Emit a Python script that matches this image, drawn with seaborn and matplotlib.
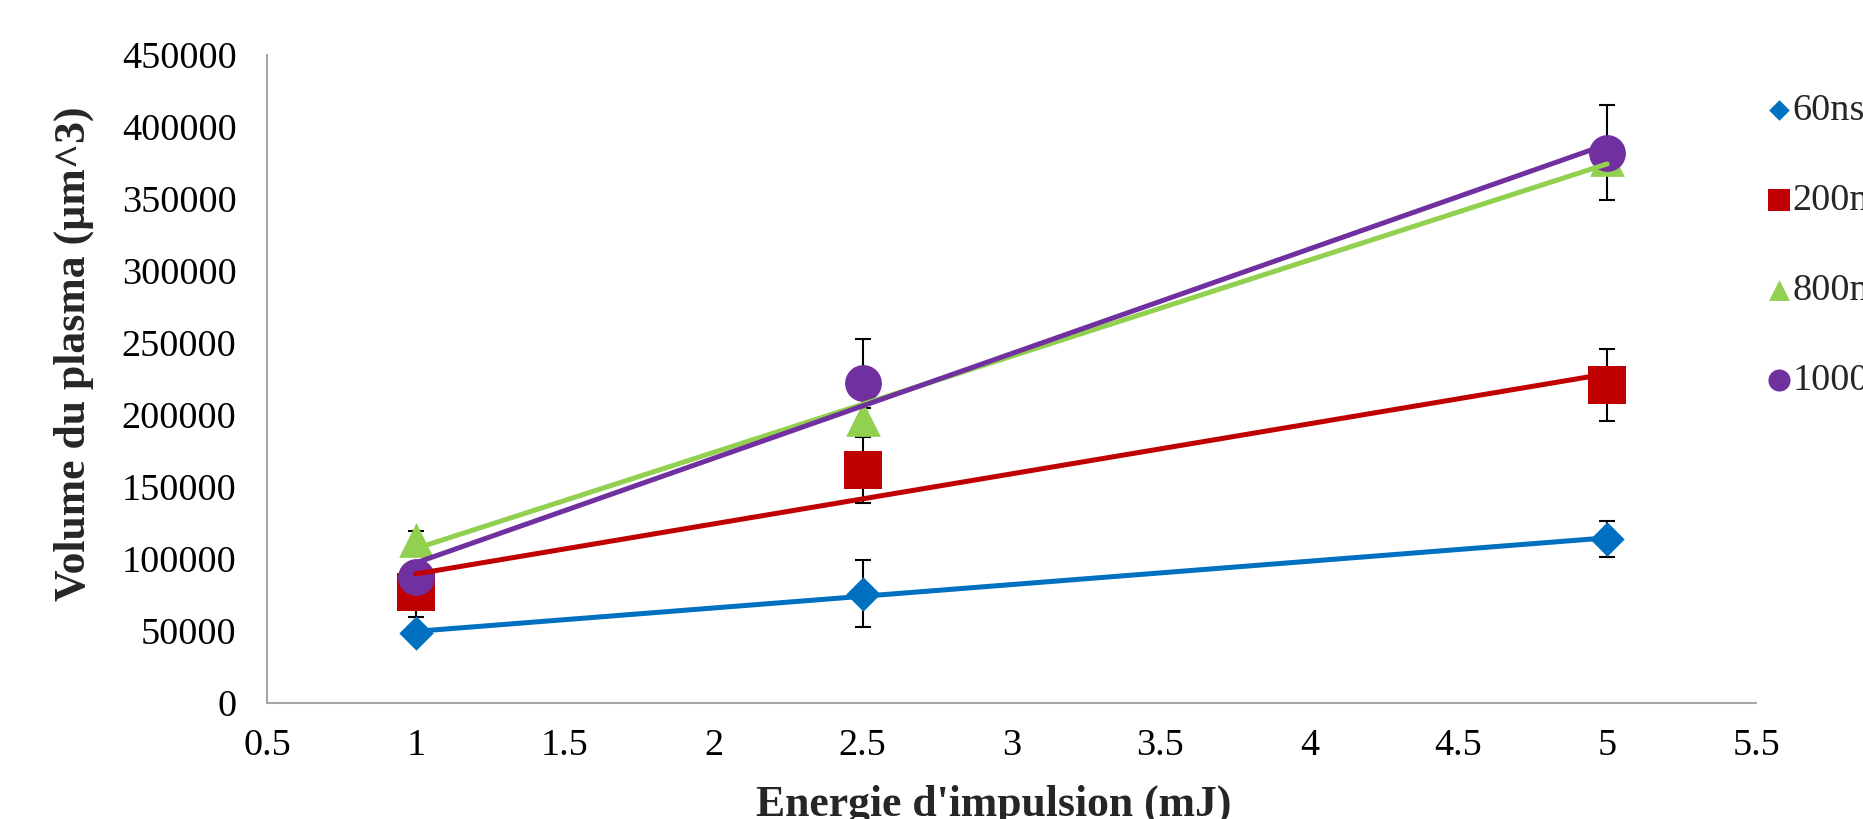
import numpy as np
import pandas as pd
import matplotlib
matplotlib.use("Agg")
import matplotlib.pyplot as plt
import seaborn as sns

# Pulse energy (mJ)
energie = [1, 2.5, 5]

# Plasma volume (µm^3) per pulse duration
vol_60ns = [48600, 76000, 114000]
vol_200ns = [77000, 162000, 221000]
vol_800ns = [113500, 197500, 378000]
vol_1000ns = [87500, 222000, 382000]

# Error bars
err_60ns = [4000, 23000, 12500]
err_200ns = [17000, 23000, 25000]
err_800ns = [6000, 7000, 8000]
err_1000ns = [10000, 30500, 33000]

labels = ["60ns", "200ns", "800ns", "1000ns"]
colors = ["#0070C0", "#C00000", "#92D050", "#7030A0"]
markers = ["D", "s", "^", "o"]
sizes = [17.5, 27, 25, 26.5]

series = [vol_60ns, vol_200ns, vol_800ns, vol_1000ns]
errors = [err_60ns, err_200ns, err_800ns, err_1000ns]

frames = []
for lab, vals, errs in zip(labels, series, errors):
    frames.append(pd.DataFrame({"energie": energie, "volume": vals,
                                "err": errs, "serie": lab}))
df = pd.concat(frames, ignore_index=True)

sns.set_style("white")
plt.rcParams["font.family"] = ["Liberation Serif", "DejaVu Serif"]

fig = plt.figure(figsize=(18.63, 8.19), dpi=100)
ax = fig.add_axes([0.1434, 0.1416, 0.7992, 0.7914])

for lab, col, mk, ms in zip(labels, colors, markers, sizes):
    d = df[df["serie"] == lab]
    ax.errorbar(d["energie"], d["volume"], yerr=d["err"], fmt="none",
                ecolor="black", elinewidth=1.5, capsize=6, capthick=1.5, zorder=1)
    sns.scatterplot(data=d, x="energie", y="volume", marker=mk, color=col,
                    s=ms ** 2, linewidth=0, label=lab, ax=ax, zorder=2)

# linear trend lines
for lab, col in zip(labels, colors):
    d = df[df["serie"] == lab]
    sns.regplot(data=d, x="energie", y="volume", scatter=False, ci=None,
                truncate=True, color=col, line_kws={"linewidth": 3.6, "zorder": 3},
                ax=ax)

ax.set_xlim(0.5, 5.5)
ax.set_ylim(0, 450000)
ax.set_xticks(np.arange(0.5, 5.51, 0.5))
ax.set_xticklabels(["0.5", "1", "1.5", "2", "2.5", "3", "3.5", "4", "4.5", "5", "5.5"])
ax.set_yticks(np.arange(0, 450001, 50000))

for s in ["top", "right"]:
    ax.spines[s].set_visible(False)
for s in ["left", "bottom"]:
    ax.spines[s].set_color("#a6a6a6")
    ax.spines[s].set_linewidth(1.5)

ax.tick_params(axis="both", which="both", direction="out", length=7, width=1.5,
               color="#a6a6a6", labelsize=27.5, labelcolor="black")
ax.tick_params(axis="y", pad=15)
ax.tick_params(axis="x", pad=11)

ax.set_xlabel("Energie d'impulsion (mJ)", fontsize=31.5, fontweight="bold")
ax.set_ylabel("Volume du plasma (µm^3)", fontsize=31.5, fontweight="bold")
ax.xaxis.set_label_coords(0.488, -0.126)
ax.yaxis.set_label_coords(-0.1165, 0.539)

leg = ax.legend(loc="upper left", bbox_to_anchor=(0.949, 0.886),
                bbox_transform=fig.transFigure, frameon=False, fontsize=27.5,
                markerscale=0.6, labelspacing=1.45, handlelength=0.6,
                handletextpad=0.05, borderpad=0, borderaxespad=0)

fig.savefig("out.png", dpi=100)
